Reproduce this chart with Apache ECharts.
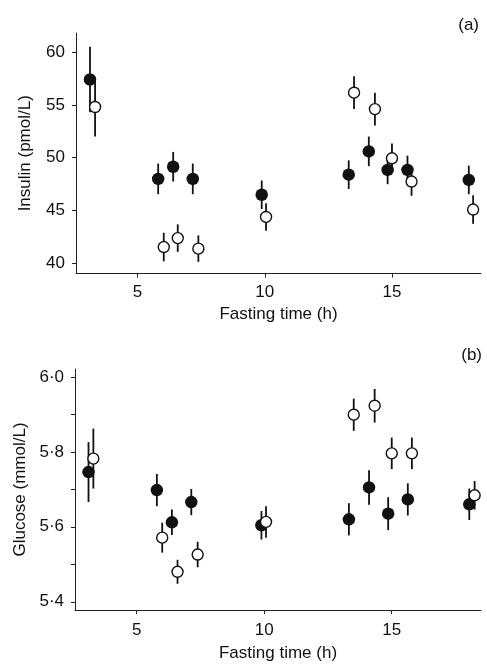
<!DOCTYPE html>
<html>
<head>
<meta charset="utf-8">
<script src="https://cdn.jsdelivr.net/npm/echarts@6/dist/echarts.min.js"></script>
<style>
  html, body { margin: 0; padding: 0; background: #fff; }
  #chart { width: 487px; height: 664px; }
</style>
</head>
<body>
<div id="chart"></div>
<script>
// Fasting time (h) at which each group was sampled, with mean and SE.
// Panel (a): insulin, pmol/L
const insulinTimeA = [3.13, 5.81, 6.40, 7.17, 9.88, 13.30, 14.09, 14.83, 15.61, 18.02];
const insulinMeanA = [57.4, 48.0, 49.15, 48.0, 46.5, 48.4, 50.6, 48.85, 48.85, 47.9];
const insulinSeA   = [3.1, 1.45, 1.4, 1.45, 1.35, 1.35, 1.4, 1.35, 1.35, 1.35];

const insulinTimeB = [3.33, 6.03, 6.58, 7.39, 10.05, 13.51, 14.33, 15.0, 15.77, 18.19];
const insulinMeanB = [54.8, 41.55, 42.4, 41.4, 44.4, 56.15, 54.6, 49.95, 47.75, 45.1];
const insulinSeB   = [2.8, 1.35, 1.3, 1.25, 1.3, 1.55, 1.55, 1.4, 1.35, 1.35];

// Panel (b): glucose, mmol/L
const glucoseTimeA = [3.11, 5.79, 6.38, 7.14, 9.89, 13.32, 14.11, 14.86, 15.63, 18.04];
const glucoseMeanA = [5.746, 5.698, 5.612, 5.666, 5.604, 5.62, 5.705, 5.635, 5.673, 5.66];
const glucoseSeA   = [0.08, 0.043, 0.034, 0.035, 0.038, 0.043, 0.046, 0.044, 0.043, 0.042];

const glucoseTimeB = [3.30, 6.0, 6.60, 7.39, 10.07, 13.51, 14.33, 15.0, 15.79, 18.25];
const glucoseMeanB = [5.782, 5.571, 5.48, 5.526, 5.613, 5.899, 5.923, 5.796, 5.796, 5.684];
const glucoseSeB   = [0.08, 0.04, 0.032, 0.034, 0.042, 0.043, 0.045, 0.042, 0.042, 0.038];

// Axis ticks
const timeTicks = [5, 10, 15];
const insulinTicks = [40, 45, 50, 55, 60];
const glucoseTicks = [5.4, 5.5, 5.6, 5.7, 5.8, 5.9, 6.0];
const glucoseLabels = [5.4, 5.6, 5.8, 6.0];

const FONT = '"Liberation Sans", Arial, Helvetica, sans-serif';
const INK = '#111';

function points(t, m) { return t.map((x, i) => [x, m[i]]); }
function bars(t, m, s) { return t.map((x, i) => [x, m[i] - s[i], m[i] + s[i]]); }

function errorSeries(idx, data) {
  return {
    type: 'custom',
    xAxisIndex: idx, yAxisIndex: idx,
    z: 2,
    data: data,
    renderItem: function (params, api) {
      const lo = api.coord([api.value(0), api.value(1)]);
      const hi = api.coord([api.value(0), api.value(2)]);
      return {
        type: 'line',
        shape: { x1: lo[0], y1: lo[1], x2: hi[0], y2: hi[1] },
        style: { stroke: INK, lineWidth: 1.8 }
      };
    }
  };
}
function filledSeries(idx, data) {
  return {
    type: 'scatter', xAxisIndex: idx, yAxisIndex: idx, z: 3,
    symbol: 'circle', symbolSize: 12.5, data: data,
    itemStyle: { color: INK, borderColor: INK, borderWidth: 0, opacity: 1 }
  };
}
function openSeries(idx, data) {
  return {
    type: 'scatter', xAxisIndex: idx, yAxisIndex: idx, z: 4,
    symbol: 'circle', symbolSize: 11, data: data,
    itemStyle: { color: '#fff', borderColor: INK, borderWidth: 1.4, opacity: 1 }
  };
}

const axisText = { color: INK, fontFamily: FONT, fontSize: 17 };

function xAxis(idx, labelMargin, nameGap) {
  return {
    type: 'value', gridIndex: idx, min: 2.58, max: 18.5,
    name: 'Fasting time (h)', nameLocation: 'middle', nameGap: nameGap,
    nameTextStyle: { color: INK, fontFamily: FONT, fontSize: 17 },
    axisLine: { show: true, onZero: false, lineStyle: { color: '#222', width: 1 } },
    axisTick: { show: true, inside: false, length: 4, customValues: timeTicks, lineStyle: { color: '#222' } },
    axisLabel: Object.assign({ customValues: timeTicks, margin: labelMargin }, axisText),
    splitLine: { show: false }
  };
}

const chart = echarts.init(document.getElementById('chart'), null, { renderer: 'canvas' });
chart.setOption({
  animation: false,
  backgroundColor: '#fff',
  grid: [
    { left: 76, right: 6, top: 33, height: 240.5 },
    { left: 75, right: 6, top: 369, height: 241 }
  ],
  xAxis: [xAxis(0, 10, 32), xAxis(1, 12, 35)],
  yAxis: [
    {
      type: 'value', gridIndex: 0, min: 39.05, max: 61.8,
      name: 'Insulin (pmol/L)', nameLocation: 'middle', nameGap: 42, nameRotate: 90,
      nameTextStyle: { color: INK, fontFamily: FONT, fontSize: 17 },
      axisLine: { show: true, onZero: false, lineStyle: { color: '#222', width: 1 } },
      axisTick: { show: true, inside: false, length: 4, customValues: insulinTicks, lineStyle: { color: '#222' } },
      axisLabel: Object.assign({ customValues: insulinTicks, margin: 11 }, axisText),
      splitLine: { show: false }
    },
    {
      type: 'value', gridIndex: 1, min: 5.378, max: 6.021,
      name: 'Glucose (mmol/L)', nameLocation: 'middle', nameGap: 44, nameRotate: 90,
      nameTextStyle: { color: INK, fontFamily: FONT, fontSize: 17 },
      axisLine: { show: true, onZero: false, lineStyle: { color: '#222', width: 1 } },
      axisTick: { show: true, inside: false, length: 4, customValues: glucoseTicks, lineStyle: { color: '#222' } },
      axisLabel: Object.assign({
        customValues: glucoseLabels, margin: 11,
        formatter: v => v.toFixed(1).replace('.', '\u00B7')
      }, axisText),
      splitLine: { show: false }
    }
  ],
  graphic: [
    { type: 'text', right: 8, top: 17, style: { text: '(a)', fill: INK, font: '17px ' + FONT } },
    { type: 'text', right: 5, top: 347, style: { text: '(b)', fill: INK, font: '17px ' + FONT } }
  ],
  series: [
    errorSeries(0, bars(insulinTimeA, insulinMeanA, insulinSeA)),
    errorSeries(0, bars(insulinTimeB, insulinMeanB, insulinSeB)),
    filledSeries(0, points(insulinTimeA, insulinMeanA)),
    openSeries(0, points(insulinTimeB, insulinMeanB)),
    errorSeries(1, bars(glucoseTimeA, glucoseMeanA, glucoseSeA)),
    errorSeries(1, bars(glucoseTimeB, glucoseMeanB, glucoseSeB)),
    filledSeries(1, points(glucoseTimeA, glucoseMeanA)),
    openSeries(1, points(glucoseTimeB, glucoseMeanB))
  ]
});
</script>
</body>
</html>
